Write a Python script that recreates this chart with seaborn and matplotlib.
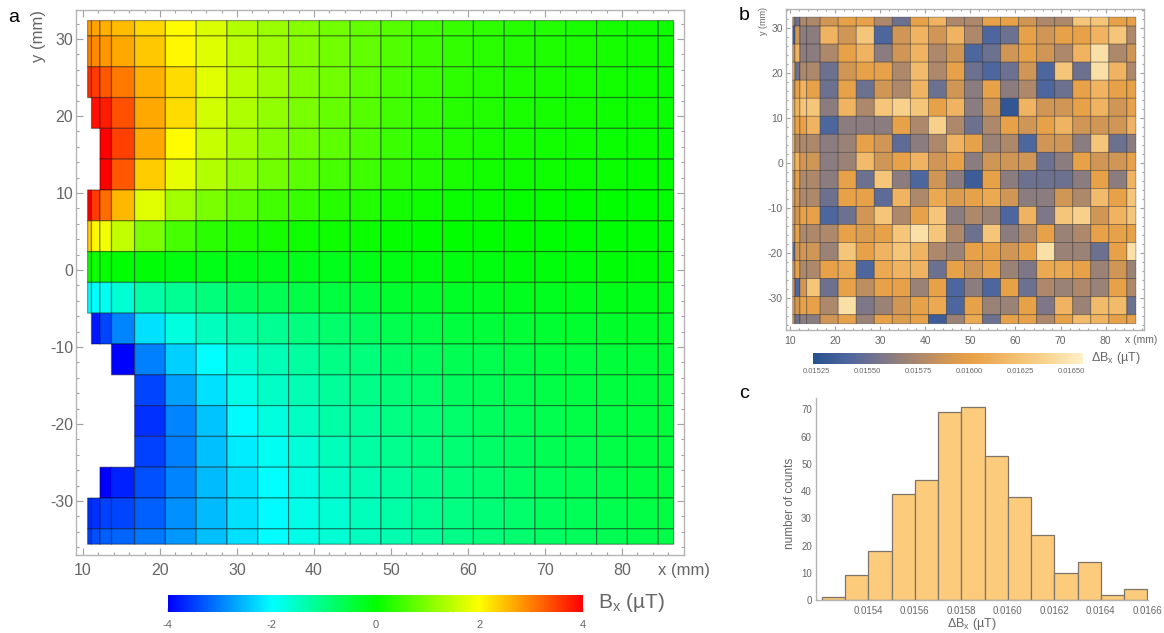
import numpy as np
import matplotlib
matplotlib.use("Agg")
import matplotlib.pyplot as plt
from matplotlib.colors import LinearSegmentedColormap, Normalize
from matplotlib.cm import ScalarMappable
from matplotlib.ticker import MultipleLocator, FixedLocator, FormatStrFormatter
import seaborn as sns

nan = np.nan

# ---------------------------------------------------------------- data
# measurement cells (mm): edges along x, and along y from top to bottom
x_edges = [10.6, 11.1, 12.2, 13.7, 16.7, 20.7, 24.7, 28.7, 32.7, 36.7, 40.7,
           44.7, 48.7, 52.7, 56.7, 60.7, 64.7, 68.7, 72.7, 76.7, 80.7, 84.7, 86.7]
y_edges = [32.4, 30.4, 26.4, 22.4, 18.4, 14.4, 10.4, 6.4, 2.4, -1.6, -5.6,
           -9.6, -13.6, -17.6, -21.6, -25.6, -29.6, -33.6, -35.6]

# Bx (µT) per cell, one row per y band (top first); nan = not measured
bx_rows = [
    [2.74, 2.70, 2.60, 2.50, 2.30, 2.02, 1.70, 1.40, 1.20, 1.05, 0.88, 0.76, 0.66, 0.52, 0.42, 0.35, 0.29, 0.25, 0.21, 0.18, 0.15, 0.12],
    [2.94, 2.90, 2.80, 2.66, 2.43, 2.06, 1.72, 1.44, 1.22, 1.06, 0.90, 0.75, 0.63, 0.48, 0.39, 0.32, 0.26, 0.22, 0.19, 0.16, 0.13, 0.10],
    [3.60, 3.50, 3.30, 3.06, 2.60, 2.25, 1.75, 1.44, 1.22, 1.03, 0.88, 0.72, 0.58, 0.44, 0.36, 0.29, 0.24, 0.20, 0.17, 0.14, 0.12, 0.09],
    [nan, 3.87, 3.75, 3.37, 2.66, 2.25, 1.63, 1.35, 1.13, 0.94, 0.81, 0.66, 0.52, 0.39, 0.31, 0.25, 0.20, 0.17, 0.14, 0.12, 0.10, 0.08],
    [nan, nan, 4.00, 3.47, 2.66, 2.00, 1.56, 1.25, 1.03, 0.88, 0.72, 0.60, 0.45, 0.33, 0.26, 0.21, 0.17, 0.14, 0.11, 0.09, 0.08, 0.06],
    [nan, nan, 4.00, 3.30, 2.40, 1.80, 1.38, 1.10, 0.88, 0.70, 0.56, 0.47, 0.36, 0.25, 0.19, 0.15, 0.12, 0.10, 0.08, 0.07, 0.06, 0.05],
    [4.00, 3.50, 3.15, 2.55, 1.75, 1.25, 0.95, 0.72, 0.53, 0.41, 0.31, 0.25, 0.17, 0.12, 0.09, 0.07, 0.05, 0.04, 0.03, 0.03, 0.02, 0.02],
    [2.37, 2.06, 1.88, 1.50, 0.95, 0.55, 0.34, 0.24, 0.16, 0.12, 0.10, 0.08, 0.04, 0.02, 0.01, 0.00, 0.00, -0.01, -0.01, -0.01, -0.02, -0.02],
    [0.10, 0.10, 0.05, -0.03, -0.06, -0.12, -0.16, -0.17, -0.19, -0.19, -0.19, -0.17, -0.14, -0.12, -0.11, -0.10, -0.09, -0.08, -0.07, -0.06, -0.06, -0.05],
    [-2.00, -2.00, -1.88, -1.63, -1.31, -1.13, -0.94, -0.75, -0.63, -0.56, -0.50, -0.44, -0.36, -0.32, -0.29, -0.26, -0.24, -0.22, -0.20, -0.18, -0.17, -0.16],
    [nan, -3.80, -3.45, -2.94, -2.25, -1.75, -1.50, -1.31, -1.13, -1.00, -0.84, -0.72, -0.62, -0.56, -0.50, -0.46, -0.42, -0.39, -0.36, -0.33, -0.31, -0.29],
    [nan, nan, nan, -4.00, -3.00, -2.37, -1.97, -1.63, -1.41, -1.22, -1.06, -0.94, -0.80, -0.72, -0.65, -0.60, -0.55, -0.50, -0.47, -0.44, -0.41, -0.38],
    [nan, nan, nan, nan, -3.44, -2.75, -2.22, -1.81, -1.56, -1.38, -1.19, -1.06, -0.92, -0.82, -0.74, -0.67, -0.61, -0.56, -0.51, -0.47, -0.44, -0.41],
    [nan, nan, nan, nan, -3.62, -2.94, -2.44, -2.03, -1.75, -1.53, -1.31, -1.19, -1.03, -0.92, -0.82, -0.74, -0.67, -0.61, -0.56, -0.51, -0.47, -0.44],
    [nan, nan, nan, nan, -3.50, -2.97, -2.50, -2.14, -1.88, -1.66, -1.44, -1.28, -1.12, -0.99, -0.88, -0.80, -0.72, -0.65, -0.60, -0.55, -0.50, -0.47],
    [nan, nan, -4.00, -3.75, -3.37, -2.94, -2.53, -2.22, -2.00, -1.78, -1.56, -1.38, -1.22, -1.08, -0.96, -0.86, -0.78, -0.70, -0.64, -0.58, -0.53, -0.50],
    [-3.62, -3.62, -3.50, -3.44, -3.25, -2.87, -2.53, -2.25, -2.03, -1.81, -1.63, -1.44, -1.30, -1.15, -1.02, -0.91, -0.82, -0.74, -0.67, -0.61, -0.56, -0.52],
    [-3.50, -3.37, -3.25, -3.19, -3.06, -2.81, -2.50, -2.25, -2.00, -1.81, -1.63, -1.50, -1.35, -1.20, -1.06, -0.94, -0.85, -0.77, -0.70, -0.63, -0.58, -0.54],
]

# ΔBx per cell in nT (same grid, top row first)
dbx_rows_nT = [
    [15.75, 15.52, 15.75, 15.75, 15.88, 16.00, 16.00, 15.75, 15.52, 16.00, 16.14, 15.75, 15.75, 16.00, 16.00, 15.88, 15.75, 15.75, 16.27, 16.27, 16.00, 16.00],
    [15.40, 15.88, 15.63, 15.63, 16.14, 15.88, 16.27, 15.40, 15.88, 16.14, 15.88, 16.14, 15.75, 15.40, 15.52, 16.00, 15.88, 16.00, 16.00, 16.14, 16.27, 15.75],
    [15.88, 16.14, 15.63, 15.63, 15.75, 16.00, 16.14, 15.63, 15.88, 16.14, 15.75, 15.88, 15.40, 15.52, 15.88, 16.00, 15.88, 15.75, 16.14, 16.45, 15.75, 15.88],
    [16.14, 15.52, 15.75, 15.75, 15.52, 15.88, 16.00, 16.00, 15.75, 16.20, 15.75, 16.00, 15.52, 15.40, 15.52, 15.88, 15.40, 16.27, 15.52, 16.45, 16.14, 15.75],
    [15.88, 16.00, 16.14, 16.00, 15.52, 16.00, 15.52, 15.88, 15.75, 16.14, 15.52, 15.88, 15.63, 16.00, 15.63, 15.75, 15.40, 15.52, 16.00, 16.14, 16.00, 16.00],
    [16.14, 16.14, 16.27, 16.27, 15.63, 16.14, 15.75, 16.27, 16.35, 16.27, 16.00, 16.14, 15.63, 15.88, 15.28, 16.14, 15.88, 15.88, 16.00, 16.14, 15.88, 16.00],
    [16.14, 16.00, 16.00, 16.14, 15.40, 15.63, 15.63, 15.63, 16.00, 15.75, 16.35, 15.75, 15.52, 15.75, 16.00, 15.88, 16.00, 16.14, 15.88, 15.88, 15.88, 16.14],
    [16.14, 15.75, 15.75, 15.75, 15.63, 15.68, 16.00, 15.88, 15.46, 15.63, 15.75, 16.14, 16.00, 15.68, 15.75, 15.40, 15.88, 15.88, 15.63, 16.27, 15.52, 15.63],
    [16.14, 16.14, 15.88, 15.88, 15.63, 15.68, 16.20, 15.88, 16.00, 16.14, 15.88, 16.00, 15.63, 15.88, 15.88, 15.88, 15.52, 15.63, 16.00, 15.88, 15.88, 16.00],
    [15.88, 16.00, 15.75, 15.75, 15.63, 16.00, 15.52, 16.27, 15.63, 15.40, 15.88, 15.63, 15.33, 16.00, 15.63, 15.52, 15.52, 15.52, 15.63, 16.00, 15.63, 16.14],
    [16.00, 15.88, 15.75, 15.75, 15.52, 16.00, 16.00, 15.46, 16.14, 15.75, 16.07, 15.94, 16.00, 16.07, 15.88, 15.63, 15.63, 15.88, 15.75, 16.20, 16.00, 16.27],
    [16.00, 15.88, 16.00, 16.00, 15.40, 15.52, 15.88, 16.27, 15.75, 16.00, 16.27, 15.63, 15.75, 15.68, 15.40, 16.14, 15.58, 16.27, 16.35, 15.88, 16.14, 16.27],
    [15.88, 16.00, 15.75, 15.75, 15.75, 16.00, 15.94, 16.00, 16.27, 16.45, 16.27, 15.75, 15.52, 16.27, 15.63, 15.75, 16.00, 15.68, 15.75, 16.00, 16.00, 16.00],
    [15.52, 15.88, 15.88, 15.88, 15.68, 16.27, 16.00, 16.14, 16.27, 16.14, 15.75, 15.68, 16.00, 16.00, 15.88, 16.00, 16.45, 15.68, 15.68, 15.52, 16.00, 16.45],
    [15.88, 16.00, 15.75, 15.75, 16.00, 16.07, 15.40, 16.07, 16.14, 16.14, 15.52, 16.00, 15.88, 16.00, 15.68, 15.58, 16.07, 16.07, 16.00, 15.68, 15.88, 15.68],
    [15.88, 15.40, 15.88, 16.27, 15.52, 16.00, 15.81, 16.00, 16.00, 15.68, 16.00, 15.40, 15.63, 15.40, 16.00, 15.52, 15.75, 15.68, 15.75, 15.68, 16.00, 15.75],
    [16.00, 15.88, 16.00, 16.00, 15.75, 16.45, 15.58, 15.68, 15.88, 16.00, 16.07, 15.40, 16.00, 15.68, 15.68, 16.00, 15.58, 16.14, 15.68, 16.20, 16.20, 15.52],
    [15.88, 15.52, 15.63, 15.63, 15.88, 16.00, 15.68, 16.00, 15.94, 16.00, 15.33, 15.68, 16.07, 15.52, 16.00, 16.00, 15.75, 16.00, 16.20, 16.14, 16.00, 16.00],
]

# histogram of ΔBx: bin edges (µT) and counts
hist_edges_uT = [0.0152, 0.0153, 0.0154, 0.0155, 0.0156, 0.0157, 0.0158, 0.0159,
                 0.0160, 0.0161, 0.0162, 0.0163, 0.0164, 0.0165, 0.0166]
hist_counts = [1, 9, 18, 39, 44, 69, 71, 53, 38, 24, 10, 14, 2, 4]

bx_ticks = [-4, -2, 0, 2, 4]
dbx_ticks = [0.01525, 0.01550, 0.01575, 0.01600, 0.01625, 0.01650]
hist_xticks = [0.0154, 0.0156, 0.0158, 0.0160, 0.0162, 0.0164, 0.0166]
count_ticks = [0, 10, 20, 30, 40, 50, 60, 70]

# ---------------------------------------------------------------- style
sns.set_theme(style="white")
plt.rcParams["font.family"] = ["Liberation Sans", "DejaVu Sans"]
plt.rcParams["mathtext.fontset"] = "custom"
plt.rcParams["mathtext.rm"] = "Liberation Sans"
plt.rcParams["mathtext.it"] = "Liberation Sans:italic"
plt.rcParams["axes.unicode_minus"] = False

W, H = 1164, 633
fig = plt.figure(figsize=(W / 100, H / 100), dpi=100)
fig.patch.set_facecolor("white")


def rect(x0, y0, x1, y1):
    return [x0 / W, 1 - y1 / H, (x1 - x0) / W, (y1 - y0) / H]


def ftext(x, y, s, **kw):
    fig.text(x / W, 1 - y / H, s, **kw)


TXT = "#666666"
FRAME = "#b4b4b4"

rainbow = LinearSegmentedColormap.from_list(
    "bx", ["#0000ff", "#00ffff", "#00ff00", "#ffff00", "#ff0000"])

lo_b, hi_b = 0.01523, 0.01656
stops_b = [(0.01523, "#26508f"), (0.01540, "#4e669e"), (0.01552, "#6e7190"),
           (0.01565, "#927f7c"), (0.01578, "#b58b66"), (0.01592, "#d99a50"),
           (0.01602, "#e9a248"), (0.01615, "#efb462"), (0.01628, "#f5c67a"),
           (0.01642, "#f9da9c"), (0.01656, "#fff1ca")]
sunset = LinearSegmentedColormap.from_list(
    "dbx", [((v - lo_b) / (hi_b - lo_b), c) for v, c in stops_b])


def style_frame(ax, size, major_len, minor_len, ypad, xpad):
    for sp in ax.spines.values():
        sp.set_visible(True)
        sp.set_color(FRAME)
        sp.set_linewidth(1.0)
    ax.xaxis.set_major_locator(MultipleLocator(10))
    ax.yaxis.set_major_locator(MultipleLocator(10))
    ax.xaxis.set_minor_locator(MultipleLocator(2))
    ax.yaxis.set_minor_locator(MultipleLocator(2))
    ax.tick_params(which="both", direction="in", top=True, right=True,
                   bottom=True, left=True, color="#a0a0a0", width=0.8,
                   labelcolor=TXT, labelsize=size)
    ax.tick_params(which="major", length=major_len)
    ax.tick_params(which="minor", length=minor_len)
    ax.tick_params(axis="y", pad=ypad)
    ax.tick_params(axis="x", pad=xpad)
    ax.set_xlabel("")
    ax.set_ylabel("")


# ---------------------------------------------------------------- panel a
ax_a = fig.add_axes(rect(76, 10, 684, 555))
bx = np.ma.masked_invalid(np.array(bx_rows))
ax_a.pcolor(x_edges, y_edges, bx, cmap=rainbow, vmin=-4, vmax=4,
            edgecolors=(0, 0, 0, 0.38), linewidth=0.9)
ax_a.set_xlim(9.09, 88.05)
ax_a.set_ylim(-37.0, 33.77)
style_frame(ax_a, 11.5, 5, 2.5, 2, 6)
ax_a.set_xticks([10, 20, 30, 40, 50, 60, 70, 80])
ax_a.set_yticks([-30, -20, -10, 0, 10, 20, 30])

ftext(14, 17, "a", fontsize=14, color="black", ha="center", va="center")
ftext(38, 36, "y (mm)", fontsize=12, color=TXT, rotation=90, ha="center", va="center")
ftext(684, 570, "x (mm)", fontsize=12, color=TXT, ha="center", va="center")

cax_a = fig.add_axes(rect(167.7, 595, 583.3, 611.7))
cb_a = fig.colorbar(ScalarMappable(norm=Normalize(-4, 4), cmap=rainbow),
                    cax=cax_a, orientation="horizontal")
cb_a.outline.set_visible(False)
cb_a.set_ticks(bx_ticks)
cb_a.ax.xaxis.set_minor_locator(MultipleLocator(0.5))
cb_a.ax.tick_params(which="both", direction="in", length=3, color="#dcdcdc",
                    labelsize=8, labelcolor=TXT, pad=6)
ftext(598, 603, "B$_\\mathregular{x}$ (µT)", fontsize=15, color=TXT, ha="left", va="center")

# ---------------------------------------------------------------- panel b
ax_b = fig.add_axes(rect(785.7, 9, 1144, 330))
dbx = np.array(dbx_rows_nT) / 1000.0
ax_b.pcolor(x_edges, y_edges, dbx, cmap=sunset, vmin=lo_b, vmax=hi_b,
            edgecolors=(0, 0, 0, 0.35), linewidth=0.6)
ax_b.set_xlim(9.05, 88.5)
ax_b.set_ylim(-37.0, 34.2)
style_frame(ax_b, 7.5, 3, 1.5, 2, 4)
ax_b.set_xticks([10, 20, 30, 40, 50, 60, 70, 80])
ax_b.set_yticks([-30, -20, -10, 0, 10, 20, 30])

ftext(744, 16, "b", fontsize=14, color="black", ha="center", va="center")
ftext(764, 21, "y (mm)", fontsize=6.5, color=TXT, rotation=90, ha="center", va="center")
ftext(1141, 340, "x (mm)", fontsize=7.5, color=TXT, ha="center", va="center")

cax_b = fig.add_axes(rect(812.7, 352.7, 1083.3, 364.3))
cb_b = fig.colorbar(ScalarMappable(norm=Normalize(lo_b, hi_b), cmap=sunset),
                    cax=cax_b, orientation="horizontal")
cb_b.outline.set_visible(False)
cb_b.set_ticks(dbx_ticks)
cb_b.ax.xaxis.set_major_formatter(FormatStrFormatter("%.5f"))
cb_b.ax.tick_params(which="both", direction="in", length=2, color="#dcdcdc",
                    labelsize=5.5, labelcolor=TXT, pad=3)
ftext(1091, 358, "ΔB$_\\mathregular{x}$ (µT)", fontsize=9, color=TXT, ha="left", va="center")

# ---------------------------------------------------------------- panel c
ax_c = fig.add_axes(rect(816, 398, 1148, 600))
centers = [(a + b) / 2 for a, b in zip(hist_edges_uT[:-1], hist_edges_uT[1:])]
sns.histplot(x=centers, weights=hist_counts, bins=hist_edges_uT, ax=ax_c,
             color="#fccb7b", edgecolor="#7d7468", linewidth=0.9, alpha=1.0)
ax_c.set_xlim(0.015175, 0.016603)
ax_c.set_ylim(0, 74.2)
for side in ("top", "right"):
    ax_c.spines[side].set_visible(False)
for side in ("left", "bottom"):
    ax_c.spines[side].set_visible(True)
    ax_c.spines[side].set_color(FRAME)
    ax_c.spines[side].set_linewidth(1.0)
ax_c.xaxis.set_major_locator(FixedLocator(hist_xticks))
ax_c.xaxis.set_major_formatter(FormatStrFormatter("%.4f"))
ax_c.xaxis.set_minor_locator(MultipleLocator(0.00005))
ax_c.yaxis.set_major_locator(FixedLocator(count_ticks))
ax_c.yaxis.set_minor_locator(MultipleLocator(2))
ax_c.tick_params(which="both", direction="in", color="#a0a0a0", width=0.8,
                 labelcolor=TXT, labelsize=7)
ax_c.tick_params(which="major", length=3)
ax_c.tick_params(which="minor", length=1.5)
ax_c.tick_params(axis="y", pad=3)
ax_c.tick_params(axis="x", pad=4)
ax_c.set_xlabel("")
ax_c.set_ylabel("")

ftext(744, 394, "c", fontsize=14, color="black", ha="center", va="center")
ftext(790, 503, "number of counts", fontsize=8.5, color=TXT, rotation=90, ha="center", va="center")
ftext(972, 624, "ΔB$_\\mathregular{x}$ (µT)", fontsize=9, color=TXT, ha="center", va="center")

fig.savefig("out.png", dpi=100, facecolor="white")
